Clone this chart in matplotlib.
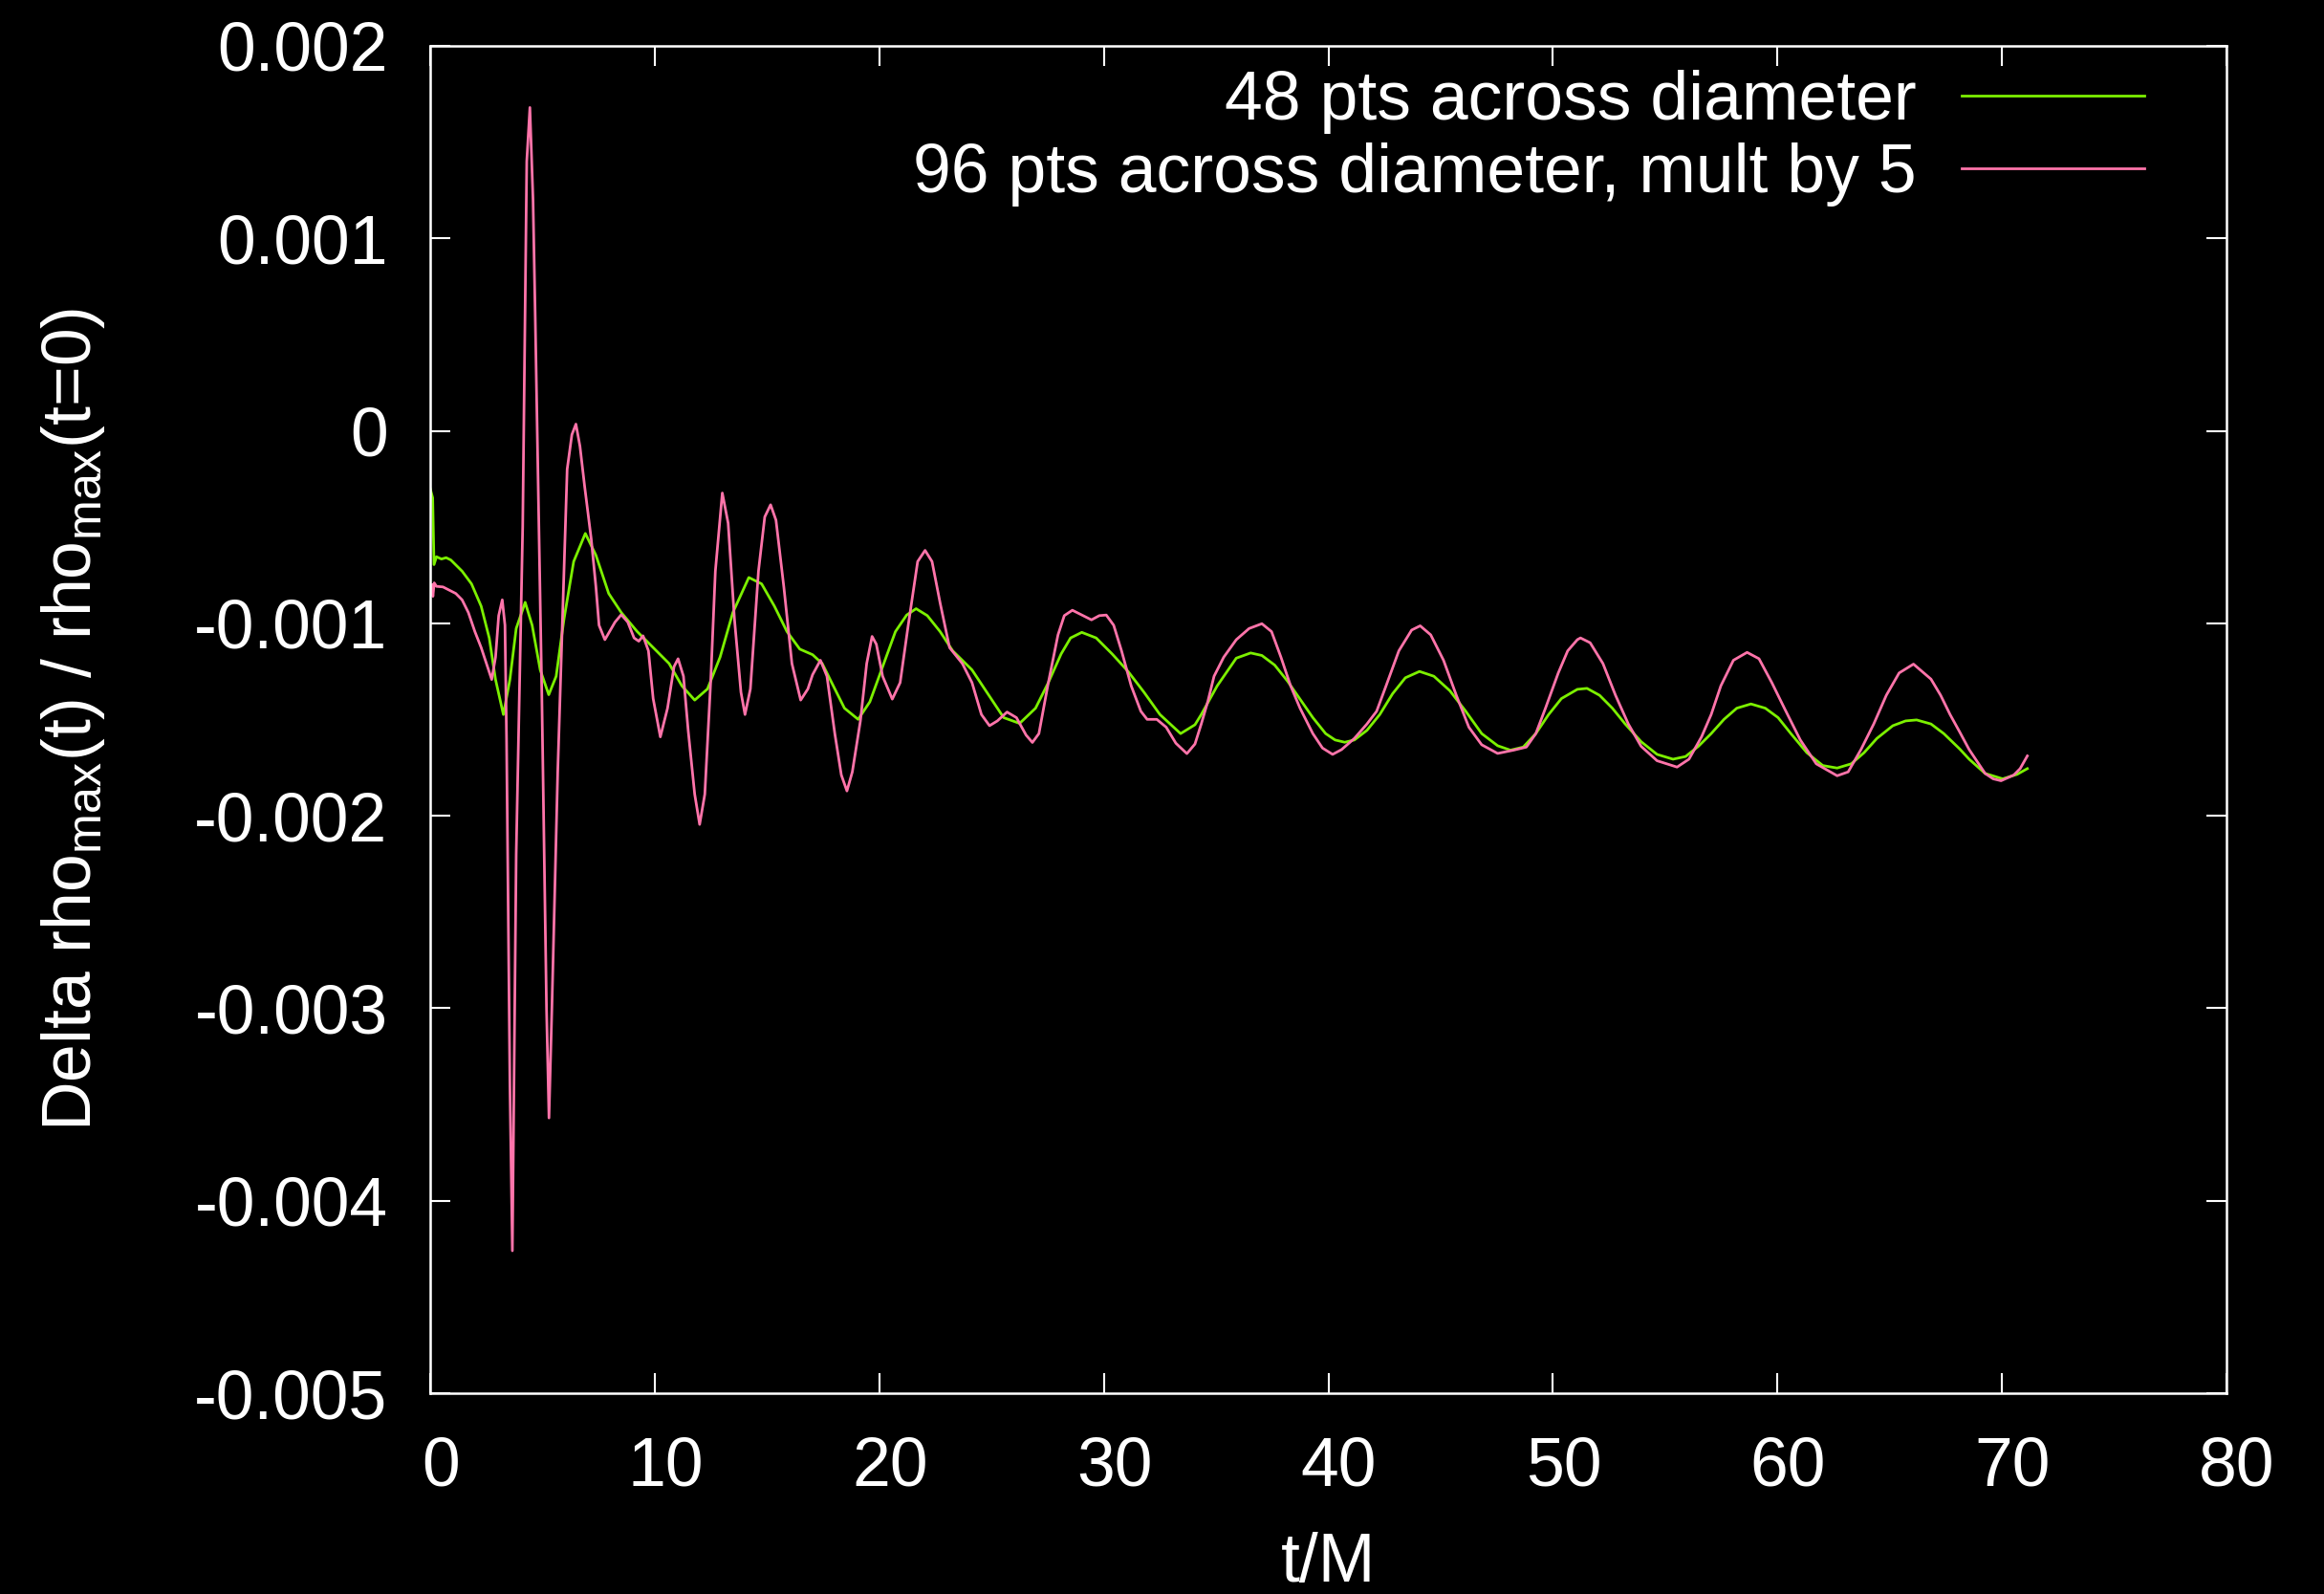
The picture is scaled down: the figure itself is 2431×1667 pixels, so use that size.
import numpy as np
import matplotlib
matplotlib.use("Agg")
import matplotlib.pyplot as plt
import matplotlib.transforms as mtransforms
from matplotlib.ticker import FixedLocator, FuncFormatter

# ---------------- data (values in units of 1e-3) ----------------
t_48 = [0.0, 0.11, 0.17, 0.28, 0.50, 0.71, 0.92, 1.42, 1.84, 2.27, 2.63, 2.91, 3.26, 3.55,
        3.83, 4.23, 4.54, 4.90, 5.28, 5.61, 5.96, 6.39, 6.91, 7.38, 7.95, 8.51, 9.22, 9.93,
        10.64, 11.21, 11.78, 12.35, 12.91, 13.48, 14.19, 14.76, 15.33, 15.89, 16.46, 17.03,
        17.46, 17.88, 18.45, 19.06, 19.58, 20.15, 20.72, 21.22, 21.64, 22.14, 22.71, 23.27,
        24.13, 24.98, 25.54, 26.25, 26.96, 27.53, 28.10, 28.52, 29.02, 29.66, 30.37, 31.08,
        31.79, 32.50, 33.42, 34.06, 34.34, 35.05, 35.90, 36.54, 37.04, 37.61, 38.18, 39.31,
        39.88, 40.30, 40.73, 41.16, 41.72, 42.29, 42.86, 43.43, 44.06, 44.70, 45.41, 46.12,
        46.83, 47.54, 48.11, 48.68, 49.24, 49.81, 50.38, 51.09, 51.52, 52.08, 52.65, 53.22,
        53.93, 54.64, 55.35, 55.91, 56.48, 57.05, 57.62, 58.19, 58.82, 59.46, 60.03, 60.60,
        61.31, 62.02, 62.66, 63.29, 63.86, 64.43, 65.14, 65.71, 66.20, 66.84, 67.41, 68.12,
        68.54, 69.25, 70.03, 70.67, 71.13]
d_48 = [-0.30, -0.348, -0.695, -0.654, -0.666, -0.659, -0.671, -0.729, -0.795, -0.911,
        -1.076, -1.292, -1.474, -1.292, -1.027, -0.891, -1.010, -1.242, -1.371, -1.275,
        -0.977, -0.679, -0.533, -0.646, -0.845, -0.944, -1.043, -1.126, -1.209, -1.325,
        -1.399, -1.341, -1.176, -0.944, -0.762, -0.795, -0.911, -1.043, -1.134, -1.163,
        -1.209, -1.308, -1.441, -1.499, -1.408, -1.225, -1.043, -0.957, -0.924, -0.960,
        -1.043, -1.143, -1.242, -1.391, -1.490, -1.520, -1.441, -1.308, -1.159, -1.076,
        -1.047, -1.076, -1.159, -1.250, -1.358, -1.474, -1.573, -1.527, -1.474, -1.325,
        -1.181, -1.154, -1.167, -1.217, -1.300, -1.490, -1.573, -1.606, -1.618, -1.606,
        -1.556, -1.474, -1.366, -1.283, -1.250, -1.275, -1.350, -1.457, -1.573, -1.636,
        -1.659, -1.643, -1.573, -1.474, -1.391, -1.343, -1.338, -1.374, -1.441, -1.523,
        -1.615, -1.681, -1.706, -1.692, -1.639, -1.573, -1.499, -1.441, -1.419, -1.441,
        -1.490, -1.573, -1.672, -1.739, -1.752, -1.730, -1.672, -1.598, -1.532, -1.507,
        -1.502, -1.523, -1.573, -1.653, -1.706, -1.780, -1.808, -1.785, -1.755]

t_96 = [0.08, 0.12, 0.18, 0.28, 0.57, 0.85, 1.14, 1.42, 1.70, 1.99, 2.27, 2.55, 2.74, 2.91,
        3.05, 3.21, 3.33, 3.40, 3.55, 3.66, 3.83, 4.12, 4.30, 4.44, 4.58, 4.68, 4.97, 5.18,
        5.29, 5.42, 5.68, 6.10, 6.31, 6.49, 6.67, 6.88, 7.17, 7.38, 7.52, 7.78, 8.23, 8.51,
        8.80, 9.08, 9.29, 9.48, 9.72, 9.93, 10.25, 10.57, 10.86, 11.04, 11.28, 11.49, 11.78,
        12.00, 12.23, 12.49, 12.70, 13.01, 13.27, 13.55, 13.84, 14.02, 14.26, 14.62, 14.90,
        15.16, 15.40, 15.75, 16.11, 16.50, 16.82, 17.03, 17.38, 17.67, 18.02, 18.31, 18.56,
        18.80, 19.16, 19.44, 19.68, 19.87, 20.15, 20.58, 20.93, 21.29, 21.71, 22.04, 22.35,
        22.71, 23.13, 23.70, 24.13, 24.55, 24.91, 25.26, 25.69, 26.11, 26.54, 26.82, 27.11,
        27.53, 27.96, 28.24, 28.60, 29.02, 29.45, 29.80, 30.11, 30.44, 30.79, 31.22, 31.65,
        31.93, 32.36, 32.78, 33.21, 33.70, 34.06, 34.34, 34.63, 34.91, 35.34, 35.90, 36.47,
        37.04, 37.47, 37.89, 38.32, 38.74, 39.31, 39.74, 40.19, 40.59, 41.16, 41.72, 42.15,
        42.57, 43.14, 43.71, 44.09, 44.56, 45.13, 45.70, 46.26, 46.83, 47.54, 48.25, 48.82,
        49.24, 49.67, 50.24, 50.66, 51.09, 51.23, 51.66, 52.23, 52.79, 53.36, 53.93, 54.64,
        55.53, 56.06, 56.62, 57.05, 57.48, 58.04, 58.65, 59.18, 59.75, 60.31, 61.02, 61.73,
        62.66, 63.15, 63.72, 64.29, 64.85, 65.42, 66.06, 66.84, 67.27, 67.69, 68.12, 68.54,
        69.25, 69.61, 69.96, 70.53, 70.81, 71.13]
d_96 = [-0.80, -0.86, -0.79, -0.808, -0.811, -0.828, -0.845, -0.878, -0.944, -1.043,
        -1.126, -1.225, -1.292, -1.176, -0.960, -0.878, -1.010, -1.60, -3.40, -4.26, -2.20,
        -0.50, 1.40, 1.68, 1.20, 0.58, -1.36, -3.00, -3.57, -3.00, -1.77, -0.20, -0.02,
        0.035, -0.08, -0.29, -0.56, -0.81, -1.010, -1.085, -0.994, -0.955, -0.994, -1.076,
        -1.093, -1.065, -1.143, -1.391, -1.590, -1.441, -1.225, -1.184, -1.275, -1.557,
        -1.888, -2.045, -1.888, -1.308, -0.729, -0.323, -0.480, -0.977, -1.358, -1.474,
        -1.341, -0.729, -0.447, -0.384, -0.464, -0.811, -1.209, -1.399, -1.341, -1.267,
        -1.192, -1.275, -1.573, -1.788, -1.871, -1.772, -1.507, -1.209, -1.068, -1.109,
        -1.275, -1.394, -1.308, -1.010, -0.679, -0.621, -0.679, -0.894, -1.126, -1.209,
        -1.308, -1.474, -1.532, -1.507, -1.461, -1.490, -1.581, -1.619, -1.573, -1.308,
        -1.060, -0.960, -0.932, -0.957, -0.982, -0.960, -0.957, -1.010, -1.143, -1.325,
        -1.457, -1.499, -1.499, -1.540, -1.623, -1.677, -1.627, -1.523, -1.407, -1.275,
        -1.176, -1.085, -1.027, -1.002, -1.043, -1.176, -1.325, -1.441, -1.573, -1.648,
        -1.681, -1.656, -1.598, -1.523, -1.457, -1.325, -1.143, -1.035, -1.013, -1.060,
        -1.192, -1.374, -1.540, -1.631, -1.676, -1.659, -1.643, -1.573, -1.441, -1.258,
        -1.143, -1.085, -1.076, -1.101, -1.209, -1.374, -1.523, -1.639, -1.714, -1.747,
        -1.706, -1.590, -1.474, -1.325, -1.192, -1.151, -1.184, -1.308, -1.441, -1.606,
        -1.730, -1.792, -1.772, -1.656, -1.523, -1.374, -1.258, -1.212, -1.290, -1.374,
        -1.474, -1.565, -1.656, -1.780, -1.808, -1.818, -1.788, -1.755, -1.689]

labels = ["48 pts across diameter", "96 pts across diameter, mult by 5"]
x_ticks = [0, 10, 20, 30, 40, 50, 60, 70, 80]
y_ticks = [-0.005, -0.004, -0.003, -0.002, -0.001, 0.0, 0.001, 0.002]

# ---------------- style ----------------
plt.rcParams['font.family'] = ['Liberation Sans', 'DejaVu Sans']
plt.rcParams['mathtext.fontset'] = 'custom'
plt.rcParams['mathtext.rm'] = 'Liberation Sans'
plt.rcParams['mathtext.it'] = 'Liberation Sans'
plt.rcParams['axes.unicode_minus'] = False

FS = 51.5
fig = plt.figure(figsize=(24.31, 16.67), dpi=100, facecolor='black')
ax = fig.add_axes([450 / 2431, 1 - 1457 / 1667, (2329 - 450) / 2431, (1457 - 48) / 1667])
ax.set_facecolor('black')

ax.plot(t_48, np.array(d_48) * 1e-3, color='#7cf000', lw=2.0, label=labels[0],
        solid_joinstyle='round')
ax.plot(t_96, np.array(d_96) * 1e-3, color='#ff74aa', lw=2.0, label=labels[1],
        solid_joinstyle='round')

ax.set_xlim(0, 80)
ax.set_ylim(-0.005, 0.002)
ax.xaxis.set_major_locator(FixedLocator(x_ticks))
ax.yaxis.set_major_locator(FixedLocator(y_ticks))
ax.xaxis.set_major_formatter(FuncFormatter(lambda v, p: '%g' % round(v, 6)))
ax.yaxis.set_major_formatter(FuncFormatter(lambda v, p: '0' if abs(v) < 1e-12 else '%g' % round(v, 6)))

for s in ax.spines.values():
    s.set_color('white')
    s.set_linewidth(1.8)
ax.tick_params(axis='both', which='major', direction='in', length=15, width=1.5,
               colors='white', labelsize=FS, pad=32,
               top=True, right=True)

# gnuplot-like slight right offset of x tick labels
offset = mtransforms.ScaledTranslation(11 / 100, 0, fig.dpi_scale_trans)
for lab in ax.get_xticklabels():
    lab.set_transform(lab.get_transform() + offset)

ax.set_xlabel('t/M', color='white', fontsize=FS, labelpad=24)
ax.set_ylabel(r'Delta rho$_\mathregular{max}$(t) / rho$_\mathregular{max}$(t=0)',
              color='white', fontsize=FS, labelpad=66)

leg = ax.legend(loc='upper right', bbox_to_anchor=(0.954, 0.982), frameon=False,
                markerfirst=False, fontsize=FS, handlelength=2.66, handletextpad=0.67,
                labelspacing=0.12, borderpad=0, borderaxespad=0)
for txt in leg.get_texts():
    txt.set_color('white')

fig.savefig('out.png', dpi=100, facecolor='black')
